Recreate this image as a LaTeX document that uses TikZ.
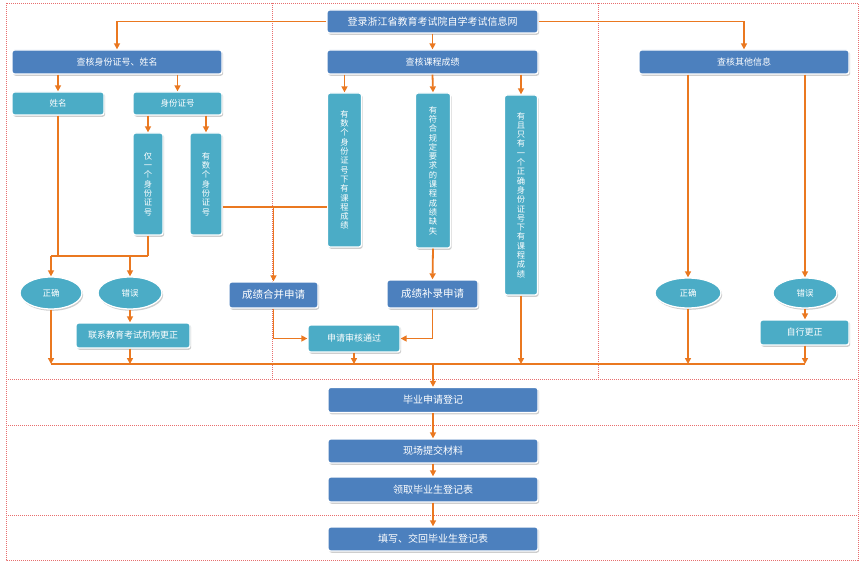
\documentclass[tikz,border=0pt]{standalone}
\usepackage{fontspec}
\newfontfamily\cjk{Noto Sans CJK SC}
\usetikzlibrary{arrows.meta,shapes.geometric,shadows}
\definecolor{dblue}{RGB}{76,128,190}
\definecolor{lblue}{RGB}{75,172,198}
\definecolor{arr}{RGB}{234,120,32}
\definecolor{framec}{RGB}{232,110,110}
\newcommand\fsz[1]{\fontsize{#1}{#1}\selectfont}
\begin{document}
\begin{tikzpicture}[x=1pt,y=-1pt,
  base/.style={text=white, inner sep=0pt, draw=white, line width=1.3pt, rounded corners=2.5pt,
    drop shadow={shadow xshift=1.2pt, shadow yshift=-1.8pt, opacity=0.35, fill=black!55}},
  dbox/.style={base, fill=dblue, font=\cjk\fsz{9}},
  lbox/.style={base, fill=lblue, font=\cjk\fsz{9}},
  vbox/.style={base, fill=lblue, align=center, font=\cjk\fontsize{8.3}{9.3}\selectfont},
  oval/.style={base, ellipse, sharp corners, fill=lblue, font=\cjk\fsz{8.5}},
  sz/.style 2 args={minimum width=#1pt, minimum height=#2pt},
  conn/.style={draw=arr, line width=1.8pt},
  arrowc/.style={conn, -{Triangle[width=6pt,length=6pt]}},
  framel/.style={draw=framec, line width=0.6pt, dash pattern=on 1pt off 1pt}
]
\useasboundingbox (0,0) rectangle (864,564);
% frame
\draw[framel] (6,3) rectangle (858,560);
\draw[framel] (6,379) -- (858,379);
\draw[framel] (6,425) -- (858,425);
\draw[framel] (6,515) -- (858,515);
\draw[framel] (272,3) -- (272,379);
\draw[framel] (598,3) -- (598,379);

% nodes
\node[dbox, sz={211}{23}, font=\cjk\fsz{10}] (top) at (432.5,21.5) {登录浙江省教育考试院自学考试信息网};
\node[dbox, sz={210}{24}] (sf) at (117,62) {查核身份证号、姓名};
\node[dbox, sz={211}{24}] (cj) at (432.5,62) {查核课程成绩};
\node[dbox, sz={210}{24}] (qt) at (744,62) {查核其他信息};

\node[lbox, sz={92}{23}, font=\cjk\fsz{8.5}] (xm) at (58,103.5) {姓名};
\node[lbox, sz={89}{23}, font=\cjk\fsz{8.5}] (sfz) at (177.5,103.5) {身份证号};
\node[vbox, sz={30}{102}] (v1) at (148,184) {仅\\一\\个\\身\\份\\证\\号};
\node[vbox, sz={32}{102}] (v2) at (206,184) {有\\数\\个\\身\\份\\证\\号};
\node[vbox, sz={34}{154}] (v3) at (344.5,170) {有\\数\\个\\身\\份\\证\\号\\下\\有\\课\\程\\成\\绩};
\node[vbox, sz={35}{155}] (v4) at (433,170.5) {有\\符\\合\\规\\定\\要\\求\\的\\课\\程\\成\\绩\\缺\\失};
\node[vbox, sz={33}{200}] (v5) at (521,195) {有\\且\\只\\有\\一\\个\\正\\确\\身\\份\\证\\号\\下\\有\\课\\程\\成\\绩};

\node[oval, sz={62}{32}] (zq1) at (51,293) {正确};
\node[oval, sz={64}{32}] (cw1) at (130,293) {错误};
\node[lbox, sz={114}{25}] (lx) at (133,335.5) {联系教育考试机构更正};
\node[dbox, sz={89}{26}, font=\cjk\fsz{10.5}] (hb) at (273.5,295) {成绩合并申请};
\node[dbox, sz={91}{28}, font=\cjk\fsz{10.5}] (bl) at (432.5,294) {成绩补录申请};
\node[lbox, sz={92}{27}] (sh) at (354,338.5) {申请审核通过};
\node[oval, sz={66}{30}] (zq2) at (688,293) {正确};
\node[oval, sz={64}{30}] (cw2) at (805,293) {错误};
\node[lbox, sz={89}{25}] (zx) at (804.5,332.5) {自行更正};

\node[dbox, sz={210}{25}, font=\cjk\fsz{10}] (by) at (433,400) {毕业申请登记};
\node[dbox, sz={210}{24}, font=\cjk\fsz{10}] (xc) at (433,451) {现场提交材料};
\node[dbox, sz={210}{25}, font=\cjk\fsz{10}] (lq) at (433,489.5) {领取毕业生登记表};
\node[dbox, sz={210}{24}, font=\cjk\fsz{10}] (tx) at (433,539) {填写、交回毕业生登记表};

\coordinate (j1) at (0,256);
\coordinate (m1) at (0,207);
\coordinate (bus) at (0,364);

% connectors
\draw[arrowc] (top.west) -| (sf.north);
\draw[arrowc] (top.east) -| (qt.north);
\draw[arrowc] (top.south) -- (cj.north);

\draw[arrowc] (xm.north |- sf.south) -- (xm.north);
\draw[arrowc] (sfz.north |- sf.south) -- (sfz.north);
\draw[arrowc] (v1.north |- sfz.south) -- (v1.north);
\draw[arrowc] (v2.north |- sfz.south) -- (v2.north);

\draw[conn] (xm.south) -- (xm.south |- j1);
\draw[conn] (v1.south) -- (v1.south |- j1);
\draw[conn] (zq1.north |- j1) -- (v1.south |- j1);
\draw[arrowc] (zq1.north |- j1) -- (zq1.north);
\draw[arrowc] (cw1.north |- j1) -- (cw1.north);
\draw[arrowc] (cw1.south) -- (cw1.south |- lx.north);

\draw[conn] (v2.east |- m1) -- (v3.west |- m1);
\draw[arrowc] (hb.north |- m1) -- (hb.north);
\draw[arrowc] (hb.south) |- (sh.west);

\draw[arrowc] (v3.north |- cj.south) -- (v3.north);
\draw[arrowc] (cj.south) -- (v4.north);
\draw[arrowc] (v5.north |- cj.south) -- (v5.north);
\draw[arrowc] (v4.south) -- (bl.north);
\draw[arrowc] (bl.south) |- (sh.east);

\draw[arrowc] (zq2.north |- qt.south) -- (zq2.north);
\draw[arrowc] (cw2.north |- qt.south) -- (cw2.north);
\draw[arrowc] (cw2.south) -- (zx.north -| cw2.south);

% bus
\draw[conn] (zq1.south |- bus) -- (cw2.south |- bus);
\draw[arrowc] (zq1.south) -- (zq1.south |- bus);
\draw[arrowc] (cw1.south |- lx.south) -- (cw1.south |- bus);
\draw[arrowc] (sh.south) -- (sh.south |- bus);
\draw[arrowc] (v5.south) -- (v5.south |- bus);
\draw[arrowc] (zq2.south) -- (zq2.south |- bus);
\draw[arrowc] (cw2.south |- zx.south) -- (cw2.south |- bus);

\draw[arrowc] (by.north |- bus) -- (by.north);
\draw[arrowc] (by.south) -- (xc.north);
\draw[arrowc] (xc.south) -- (lq.north);
\draw[arrowc] (lq.south) -- (tx.north);
\end{tikzpicture}
\end{document}
